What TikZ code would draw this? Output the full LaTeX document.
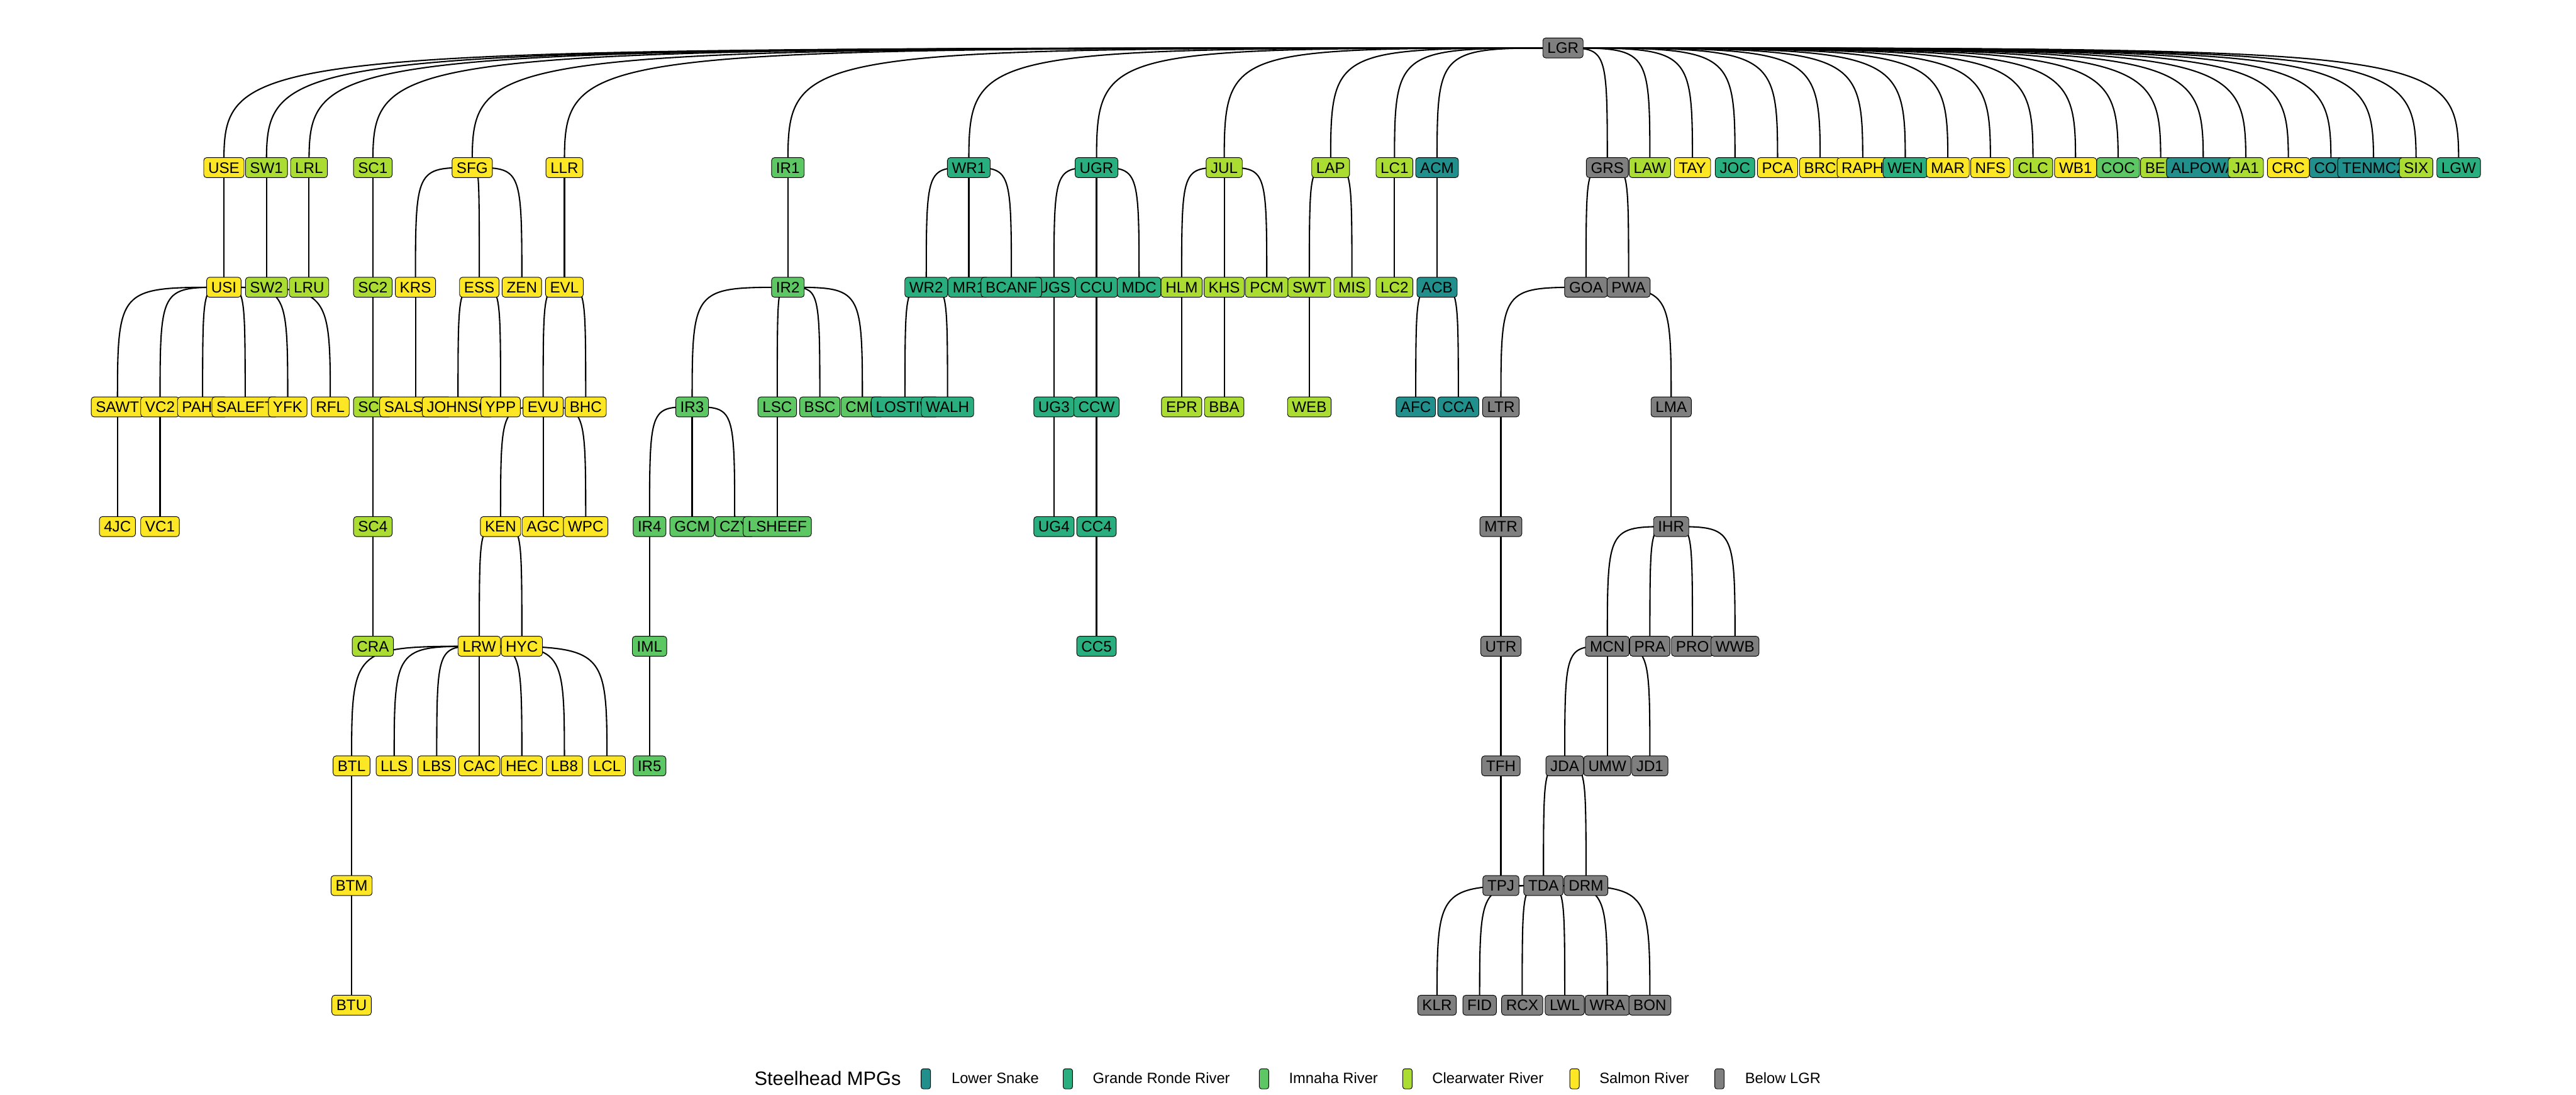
\documentclass[tikz,border=0pt]{standalone}
\usepackage{fontspec}
\setmainfont{Liberation Sans}
\pgfdeclarelayer{bg}
\pgfsetlayers{bg,main}
\definecolor{cLS}{HTML}{21908C}
\definecolor{cGR}{HTML}{29AF7F}
\definecolor{cIM}{HTML}{5DC863}
\definecolor{cCW}{HTML}{AADC32}
\definecolor{cSR}{HTML}{FDE725}
\definecolor{cBL}{HTML}{7F7F7F}
\tikzset{
 box/.style={draw=black, line width=0.35pt, rounded corners=1.75pt, inner xsep=2.74pt, inner ysep=2.76pt,
   text height=6.63pt, text depth=0pt, font=\fontsize{9.26}{11}\selectfont, anchor=center},
 conn/.style={line width=0.8pt, black},
 keybox/.style={draw=black, line width=0.35pt, rounded corners=1.3pt, minimum width=5.7pt, minimum height=12.2pt, inner sep=0pt},
 legtext/.style={font=\fontsize{9.1}{11}\selectfont, anchor=base west, inner sep=0pt},
 legtitle/.style={font=\fontsize{11.8}{13}\selectfont, anchor=base west, inner sep=0pt}
}
\newcommand\nd[5]{\node[box,fill=#4] (#1) at (#2,-#3) {#5};}
\newcommand\cn[2]{\draw[conn] (#1.center) .. controls (#2.center |- #1.center) and (#2.center |- #1.center) .. (#2.center);}
\begin{document}
\begin{tikzpicture}[x=25.91pt,y=72.83pt]
\useasboundingbox (-2.7596,0.4008) rectangle (57.757,-8.7493);
% level 0
\nd{LGR}{33.9583}{0}{cBL}{LGR}
% level 1
\nd{USE}{2.5}{1}{cSR}{USE}
\nd{SW1}{3.5}{1}{cCW}{SW1}
\nd{LRL}{4.5}{1}{cCW}{LRL}
\nd{SC1}{6}{1}{cCW}{SC1}
\nd{SFG}{8.3333}{1}{cSR}{SFG}
\nd{LLR}{10.5}{1}{cSR}{LLR}
\nd{IR1}{15.75}{1}{cIM}{IR1}
\nd{WR1}{20}{1}{cGR}{WR1}
\nd{UGR}{23}{1}{cGR}{UGR}
\nd{JUL}{26}{1}{cCW}{JUL}
\nd{LAP}{28.5}{1}{cCW}{LAP}
\nd{LC1}{30}{1}{cCW}{LC1}
\nd{ACM}{31}{1}{cLS}{ACM}
\nd{GRS}{35}{1}{cBL}{GRS}
\nd{LAW}{36}{1}{cCW}{LAW}
\nd{TAY}{37}{1}{cSR}{TAY}
\nd{JOC}{38}{1}{cGR}{JOC}
\nd{PCA}{39}{1}{cSR}{PCA}
\nd{BRC}{40}{1}{cSR}{BRC}
\nd{RAPH}{41}{1}{cSR}{RAPH}
\nd{WEN}{42}{1}{cGR}{WEN}
\nd{MAR}{43}{1}{cSR}{MAR}
\nd{NFS}{44}{1}{cSR}{NFS}
\nd{CLC}{45}{1}{cCW}{CLC}
\nd{WB1}{46}{1}{cSR}{WB1}
\nd{COC}{47}{1}{cIM}{COC}
\nd{BED}{48}{1}{cCW}{BE\phantom{D}}
\nd{ALPOWA}{49}{1}{cLS}{ALPOWA}
\nd{JA1}{50}{1}{cCW}{JA1}
\nd{CRC}{51}{1}{cSR}{CRC}
\nd{COU}{52}{1}{cLS}{CO\phantom{U}}
\nd{TENMC2}{53}{1}{cLS}{TENMC2}
\nd{SIX}{54}{1}{cCW}{SIX}
\nd{LGW}{55}{1}{cGR}{LGW}
% level 2
\nd{USI}{2.5}{2}{cSR}{USI}
\nd{SW2}{3.5}{2}{cCW}{SW2}
\nd{LRU}{4.5}{2}{cCW}{LRU}
\nd{SC2}{6}{2}{cCW}{SC2}
\nd{KRS}{7}{2}{cSR}{KRS}
\nd{ESS}{8.5}{2}{cSR}{ESS}
\nd{ZEN}{9.5}{2}{cSR}{ZEN}
\nd{EVL}{10.5}{2}{cSR}{EVL}
\nd{IR2}{15.75}{2}{cIM}{IR2}
\nd{WR2}{19}{2}{cGR}{WR2}
\nd{MR1}{20}{2}{cGR}{MR1}
\nd{UGS}{22}{2}{cGR}{UGS}
\nd{BCANF}{21}{2}{cGR}{BCANF}
\nd{CCU}{23}{2}{cGR}{CCU}
\nd{MDC}{24}{2}{cGR}{MDC}
\nd{HLM}{25}{2}{cCW}{HLM}
\nd{KHS}{26}{2}{cCW}{KHS}
\nd{PCM}{27}{2}{cCW}{PCM}
\nd{SWT}{28}{2}{cCW}{SWT}
\nd{MIS}{29}{2}{cCW}{MIS}
\nd{LC2}{30}{2}{cCW}{LC2}
\nd{ACB}{31}{2}{cLS}{ACB}
\nd{GOA}{34.5}{2}{cBL}{GOA}
\nd{PWA}{35.5}{2}{cBL}{PWA}
% level 3
\nd{SAWT}{0}{3}{cSR}{SAWT}
\nd{VC2}{1}{3}{cSR}{VC2}
\nd{PAHH}{2}{3}{cSR}{PAH\phantom{H}}
\nd{SALEFT}{3}{3}{cSR}{SALEFT}
\nd{YFK}{4}{3}{cSR}{YFK}
\nd{RFL}{5}{3}{cSR}{RFL}
\nd{SC3}{6}{3}{cCW}{SC\phantom{3}}
\nd{SALSFW}{7}{3}{cSR}{SALS\phantom{FW}}
\nd{JOHNSC}{8}{3}{cSR}{JOHNSC}
\nd{YPP}{9}{3}{cSR}{YPP}
\nd{EVU}{10}{3}{cSR}{EVU}
\nd{BHC}{11}{3}{cSR}{BHC}
\nd{IR3}{13.5}{3}{cIM}{IR3}
\nd{LSC}{15.5}{3}{cIM}{LSC}
\nd{BSC}{16.5}{3}{cIM}{BSC}
\nd{CMP}{17.5}{3}{cIM}{CMP}
\nd{LOSTIW}{18.5}{3}{cGR}{LOSTIW}
\nd{WALH}{19.5}{3}{cGR}{WALH}
\nd{UG3}{22}{3}{cGR}{UG3}
\nd{CCW}{23}{3}{cGR}{CCW}
\nd{EPR}{25}{3}{cCW}{EPR}
\nd{BBA}{26}{3}{cCW}{BBA}
\nd{WEB}{28}{3}{cCW}{WEB}
\nd{AFC}{30.5}{3}{cLS}{AFC}
\nd{CCA}{31.5}{3}{cLS}{CCA}
\nd{LTR}{32.5}{3}{cBL}{LTR}
\nd{LMA}{36.5}{3}{cBL}{LMA}
% level 4
\nd{j4JC}{0}{4}{cSR}{4JC}
\nd{VC1}{1}{4}{cSR}{VC1}
\nd{SC4}{6}{4}{cCW}{SC4}
\nd{KEN}{9}{4}{cSR}{KEN}
\nd{AGC}{10}{4}{cSR}{AGC}
\nd{WPC}{11}{4}{cSR}{WPC}
\nd{IR4}{12.5}{4}{cIM}{IR4}
\nd{GCM}{13.5}{4}{cIM}{GCM}
\nd{CZY}{14.5}{4}{cIM}{CZY}
\nd{LSHEEF}{15.5}{4}{cIM}{LSHEEF}
\nd{UG4}{22}{4}{cGR}{UG4}
\nd{CC4}{23}{4}{cGR}{CC4}
\nd{MTR}{32.5}{4}{cBL}{MTR}
\nd{IHR}{36.5}{4}{cBL}{IHR}
% level 5
\nd{CRA}{6}{5}{cCW}{CRA}
\nd{LRW}{8.5}{5}{cSR}{LRW}
\nd{HYC}{9.5}{5}{cSR}{HYC}
\nd{IML}{12.5}{5}{cIM}{IML}
\nd{CC5}{23}{5}{cGR}{CC5}
\nd{UTR}{32.5}{5}{cBL}{UTR}
\nd{MCN}{35}{5}{cBL}{MCN}
\nd{PRA}{36}{5}{cBL}{PRA}
\nd{PRO}{37}{5}{cBL}{PRO}
\nd{WWB}{38}{5}{cBL}{WWB}
% level 6
\nd{BTL}{5.5}{6}{cSR}{BTL}
\nd{LLS}{6.5}{6}{cSR}{LLS}
\nd{LBS}{7.5}{6}{cSR}{LBS}
\nd{CAC}{8.5}{6}{cSR}{CAC}
\nd{HEC}{9.5}{6}{cSR}{HEC}
\nd{LB8}{10.5}{6}{cSR}{LB8}
\nd{LCL}{11.5}{6}{cSR}{LCL}
\nd{IR5}{12.5}{6}{cIM}{IR5}
\nd{TFH}{32.5}{6}{cBL}{TFH}
\nd{JDA}{34}{6}{cBL}{JDA}
\nd{UMW}{35}{6}{cBL}{UMW}
\nd{JD1}{36}{6}{cBL}{JD1}
% level 7
\nd{BTM}{5.5}{7}{cSR}{BTM}
\nd{TPJ}{32.5}{7}{cBL}{TPJ}
\nd{TDA}{33.5}{7}{cBL}{TDA}
\nd{DRM}{34.5}{7}{cBL}{DRM}
% level 8
\nd{BTU}{5.5}{8}{cSR}{BTU}
\nd{KLR}{31}{8}{cBL}{KLR}
\nd{FID}{32}{8}{cBL}{FID}
\nd{RCX}{33}{8}{cBL}{RCX}
\nd{LWL}{34}{8}{cBL}{LWL}
\nd{WRA}{35}{8}{cBL}{WRA}
\nd{BON}{36}{8}{cBL}{BON}
% edges
\begin{pgfonlayer}{bg}
\foreach \c in {USE,SW1,LRL,SC1,SFG,LLR,IR1,WR1,UGR,JUL,LAP,LC1,ACM,GRS,LAW,TAY,JOC,PCA,BRC,RAPH,WEN,MAR,NFS,CLC,WB1,COC,BED,ALPOWA,JA1,CRC,COU,TENMC2,SIX,LGW}{\cn{LGR}{\c}}
\cn{USE}{USI} \cn{SW1}{SW2} \cn{LRL}{LRU} \cn{SC1}{SC2}
\cn{SFG}{KRS} \cn{SFG}{ESS} \cn{SFG}{ZEN} \cn{LLR}{EVL}
\cn{IR1}{IR2} \cn{WR1}{WR2} \cn{WR1}{MR1} \cn{WR1}{BCANF}
\cn{UGR}{UGS} \cn{UGR}{CCU} \cn{UGR}{MDC}
\cn{JUL}{HLM} \cn{JUL}{KHS} \cn{JUL}{PCM}
\cn{LAP}{SWT} \cn{LAP}{MIS} \cn{LC1}{LC2} \cn{ACM}{ACB}
\cn{GRS}{GOA} \cn{GRS}{PWA}
\foreach \c in {SAWT,VC2,PAHH,SALEFT,YFK,RFL}{\cn{USI}{\c}}
\cn{SC2}{SC3} \cn{KRS}{SALSFW} \cn{ESS}{JOHNSC} \cn{ESS}{YPP}
\cn{EVL}{EVU} \cn{EVL}{BHC}
\foreach \c in {IR3,LSC,BSC,CMP}{\cn{IR2}{\c}}
\cn{WR2}{LOSTIW} \cn{WR2}{WALH}
\cn{UGS}{UG3} \cn{CCU}{CCW} \cn{HLM}{EPR} \cn{KHS}{BBA} \cn{SWT}{WEB}
\cn{ACB}{AFC} \cn{ACB}{CCA} \cn{GOA}{LTR} \cn{GOA}{LMA}
\cn{SAWT}{j4JC} \cn{VC2}{VC1} \cn{SC3}{SC4}
\cn{EVU}{KEN} \cn{EVU}{AGC} \cn{EVU}{WPC}
\cn{IR3}{IR4} \cn{IR3}{GCM} \cn{IR3}{CZY} \cn{LSC}{LSHEEF}
\cn{UG3}{UG4} \cn{CCW}{CC4} \cn{LTR}{MTR} \cn{LMA}{IHR}
\cn{SC4}{CRA} \cn{KEN}{LRW} \cn{KEN}{HYC} \cn{IR4}{IML} \cn{CC4}{CC5}
\cn{MTR}{UTR}
\foreach \c in {MCN,PRA,PRO,WWB}{\cn{IHR}{\c}}
\foreach \c in {BTL,LLS,LBS,CAC,HEC,LB8,LCL}{\cn{LRW}{\c}}
\cn{IML}{IR5} \cn{UTR}{TFH}
\cn{MCN}{JDA} \cn{MCN}{UMW} \cn{MCN}{JD1}
\cn{BTL}{BTM} \cn{TFH}{TPJ} \cn{JDA}{TDA} \cn{JDA}{DRM}
\cn{BTM}{BTU}
\foreach \c in {KLR,FID,RCX,LWL,WRA,BON}{\cn{TDA}{\c}}
\end{pgfonlayer}
% legend
\node[legtitle] (legT) at (14.956,-8.671) {Steelhead MPGs};
\node[keybox,fill=cLS] (k1) at (18.99,-8.615) {};
\node[legtext] (t1) at (19.587,-8.6554) {Lower Snake};
\node[keybox,fill=cGR] (k2) at (22.327,-8.615) {};
\node[legtext] (t2) at (22.906,-8.6554) {Grande Ronde River};
\node[keybox,fill=cIM] (k3) at (26.935,-8.615) {};
\node[legtext] (t3) at (27.514,-8.6554) {Imnaha River};
\node[keybox,fill=cCW] (k4) at (30.305,-8.615) {};
\node[legtext] (t4) at (30.880,-8.6554) {Clearwater River};
\node[keybox,fill=cSR] (k5) at (34.23,-8.615) {};
\node[legtext] (t5) at (34.808,-8.6554) {Salmon River};
\node[keybox,fill=cBL] (k6) at (37.634,-8.615) {};
\node[legtext] (t6) at (38.229,-8.6554) {Below LGR};
\end{tikzpicture}
\end{document}
